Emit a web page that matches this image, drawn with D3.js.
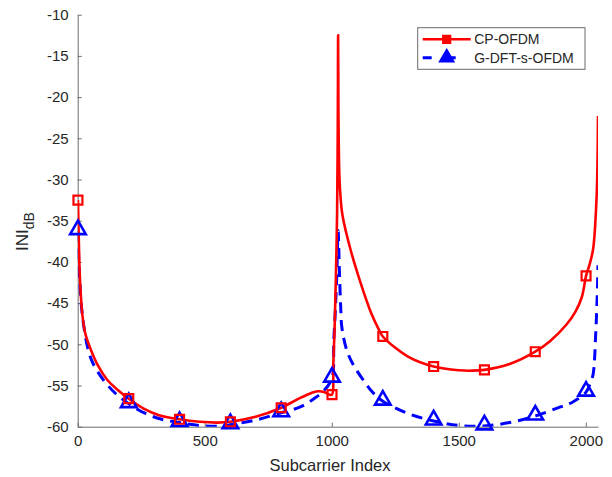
<!DOCTYPE html>
<html>
<head>
<meta charset="utf-8">
<script src="https://cdn.jsdelivr.net/npm/d3@7"></script>
<style>
  body { margin: 0; background: #fff; }
  text { font-family: "Liberation Sans", Arial, sans-serif; fill: #262626; }
</style>
</head>
<body>
<div class="container"></div>
<script>
// subcarrier index / INI in dB
let cpOfdm = [
  [1, -32.5], [5, -38.2], [9, -42.2], [18, -46.3], [30, -48.7], [51, -50.6], [80, -52.6],
  [116, -54.3], [160, -55.6], [201, -56.6], [260, -57.8], [320, -58.6], [401, -59.1],
  [480, -59.4], [550, -59.5], [601, -59.4], [700, -58.8], [801, -57.7], [870, -56.6],
  [920, -55.9], [945, -55.7], [970, -55.8], [990, -56.1], [1001, -56.1], [1006, -52.5],
  [1011, -48.3], [1016, -42.2], [1021, -34.1], [1023, -27], [1024, -21], [1025, -12.5],
  [1026, -19], [1027, -24], [1030, -29.5], [1035, -32.3], [1042, -34.3], [1073, -38.4],
  [1112, -42.4], [1155, -46.2], [1187, -48.3], [1201, -49.05], [1300, -51.5], [1401, -52.7],
  [1500, -53.15], [1550, -53.2], [1601, -53.1], [1700, -52.4], [1801, -50.9], [1860, -49.6],
  [1924, -47.6], [1960, -46.0], [1985, -44.2], [2001, -41.7], [2015, -40.3], [2029, -38.4],
  [2042, -32.5], [2046, -28], [2048, -22.3]
];
let gDftsOfdm = [
  [1, -36.2], [4, -39.5], [8, -42.2], [15, -45.5], [25, -48], [40, -50.5], [60, -52.3],
  [103, -54.4], [150, -56], [201, -57.2], [260, -58.3], [330, -59.1], [401, -59.5],
  [480, -59.85], [550, -59.95], [601, -59.75], [700, -59.2], [801, -58.3], [876, -57.6],
  [930, -56.6], [970, -55.6], [1001, -54.1], [1008, -49.5], [1014, -46], [1020, -41.5],
  [1025, -36.2], [1030, -41], [1035, -45.3], [1040, -48.0], [1060, -50.8], [1085, -52.5],
  [1130, -54.6], [1160, -55.8], [1201, -56.9], [1300, -58.4], [1401, -59.3], [1500, -59.85],
  [1601, -59.9], [1700, -59.5], [1801, -58.7], [1900, -57.6], [1949, -57.0], [2001, -55.8],
  [2020, -54.5], [2029, -53.6], [2039, -48.7], [2045, -44], [2048, -40.4]
];
let markerIdx = [1, 201, 401, 601, 801, 1001, 1201, 1401, 1601, 1801, 2001];
let xTicks = [0, 500, 1000, 1500, 2000];
let yTicks = [-60, -55, -50, -45, -40, -35, -30, -25, -20, -15, -10];
let seriesNames = ["CP-OFDM", "G-DFT-s-OFDM"];

let svg = d3.select(".container")
  .append("svg")
  .attr("width", 612)
  .attr("height", 477);

let x = d3.scaleLinear().domain([0, 2048]).range([77.7, 598]);
let y = d3.scaleLinear().domain([-60, -10]).range([426.7, 14.7]);

svg.append("clipPath")
  .attr("id", "plot")
  .append("rect")
  .attr("x", x(0))
  .attr("y", y(-10))
  .attr("width", x(2048) - x(0))
  .attr("height", y(-60) - y(-10));

// axes, ticks pointing inward like matlab
let xAxis = svg.append("g")
  .attr("transform", `translate(0,${y(-60)})`)
  .call(d3.axisBottom(x).tickValues(xTicks).tickFormat(d => String(d))
    .tickSizeInner(-4).tickSizeOuter(0).tickPadding(9));
let yAxis = svg.append("g")
  .attr("transform", `translate(${x(0)},0)`)
  .call(d3.axisLeft(y).tickValues(yTicks).tickFormat(d => String(d))
    .tickSizeInner(-4).tickSizeOuter(0).tickPadding(9));
[xAxis, yAxis].forEach(a => {
  a.select(".domain").attr("stroke", "#6b6b6b").attr("stroke-width", 1);
  a.selectAll(".tick line").attr("stroke", "#6b6b6b").attr("stroke-width", 1);
  a.selectAll(".tick text")
    .attr("fill", "#262626")
    .style("font-family", "Liberation Sans, Arial, sans-serif")
    .style("font-size", "15px");
});

let line = d3.line()
  .x(d => x(d[0]))
  .y(d => y(d[1]))
  .curve(d3.curveCatmullRom.alpha(0.5));

svg.append("path")
  .datum(gDftsOfdm)
  .attr("clip-path", "url(#plot)")
  .attr("d", line)
  .attr("fill", "none")
  .attr("stroke", "#0000ff")
  .attr("stroke-width", 3)
  .attr("stroke-dasharray", "11,7");

svg.append("path")
  .datum(cpOfdm)
  .attr("clip-path", "url(#plot)")
  .attr("d", line)
  .attr("fill", "none")
  .attr("stroke", "#ff0000")
  .attr("stroke-width", 2.6);

let square = d3.symbol().type(d3.symbolSquare).size(80);
let triangle = d3.symbol().type(d3.symbolTriangle).size(105);
let legSquare = d3.symbol().type(d3.symbolSquare).size(60);
let legTriangle = d3.symbol().type(d3.symbolTriangle).size(90);

svg.append("g")
  .selectAll("path")
  .data(gDftsOfdm.filter(d => markerIdx.includes(d[0])))
  .join("path")
  .attr("d", triangle)
  .attr("transform", d => `translate(${x(d[0])},${y(d[1]) - 1})`)
  .attr("fill", "none")
  .attr("stroke", "#0000ff")
  .attr("stroke-width", 2.6);

svg.append("g")
  .selectAll("path")
  .data(cpOfdm.filter(d => markerIdx.includes(d[0])))
  .join("path")
  .attr("d", square)
  .attr("transform", d => `translate(${x(d[0])},${y(d[1])})`)
  .attr("fill", "none")
  .attr("stroke", "#ff0000")
  .attr("stroke-width", 2.2);

// labels
svg.append("text")
  .attr("x", 330)
  .attr("y", 471)
  .attr("text-anchor", "middle")
  .style("font-size", "16.5px")
  .text("Subcarrier Index");

let ylab = svg.append("text")
  .attr("transform", "translate(28,251) rotate(-90)")
  .attr("text-anchor", "start")
  .style("font-size", "17px");
ylab.append("tspan").text("INI");
ylab.append("tspan").attr("dy", 6).style("font-size", "14px").text("dB");

// legend
let legend = svg.append("g")
  .attr("transform", "translate(417.7,27.7)");
legend.append("rect")
  .attr("width", 167.3)
  .attr("height", 41.6)
  .attr("fill", "#fff")
  .attr("stroke", "#6b6b6b")
  .attr("stroke-width", 1);

let rows = [
  { name: seriesNames[0], color: "#ff0000", dash: null, sym: legSquare, w: 2.6, ly: 11.6 },
  { name: seriesNames[1], color: "#0000ff", dash: "9,15", sym: legTriangle, w: 3, ly: 30 }
];
rows.forEach(r => {
  legend.append("line")
    .attr("x1", 5)
    .attr("x2", 53)
    .attr("y1", r.ly)
    .attr("y2", r.ly)
    .attr("stroke", r.color)
    .attr("stroke-width", r.w)
    .attr("stroke-dasharray", r.dash);
  legend.append("path")
    .attr("d", r.sym)
    .attr("transform", `translate(29,${r.ly})`)
    .attr("fill", r.color)
    .attr("stroke", r.color)
    .attr("stroke-width", 1.5);
  legend.append("text")
    .attr("x", 56.5)
    .attr("y", r.ly + 5)
    .style("font-size", "14px")
    .text(r.name);
});
</script>
</body>
</html>
